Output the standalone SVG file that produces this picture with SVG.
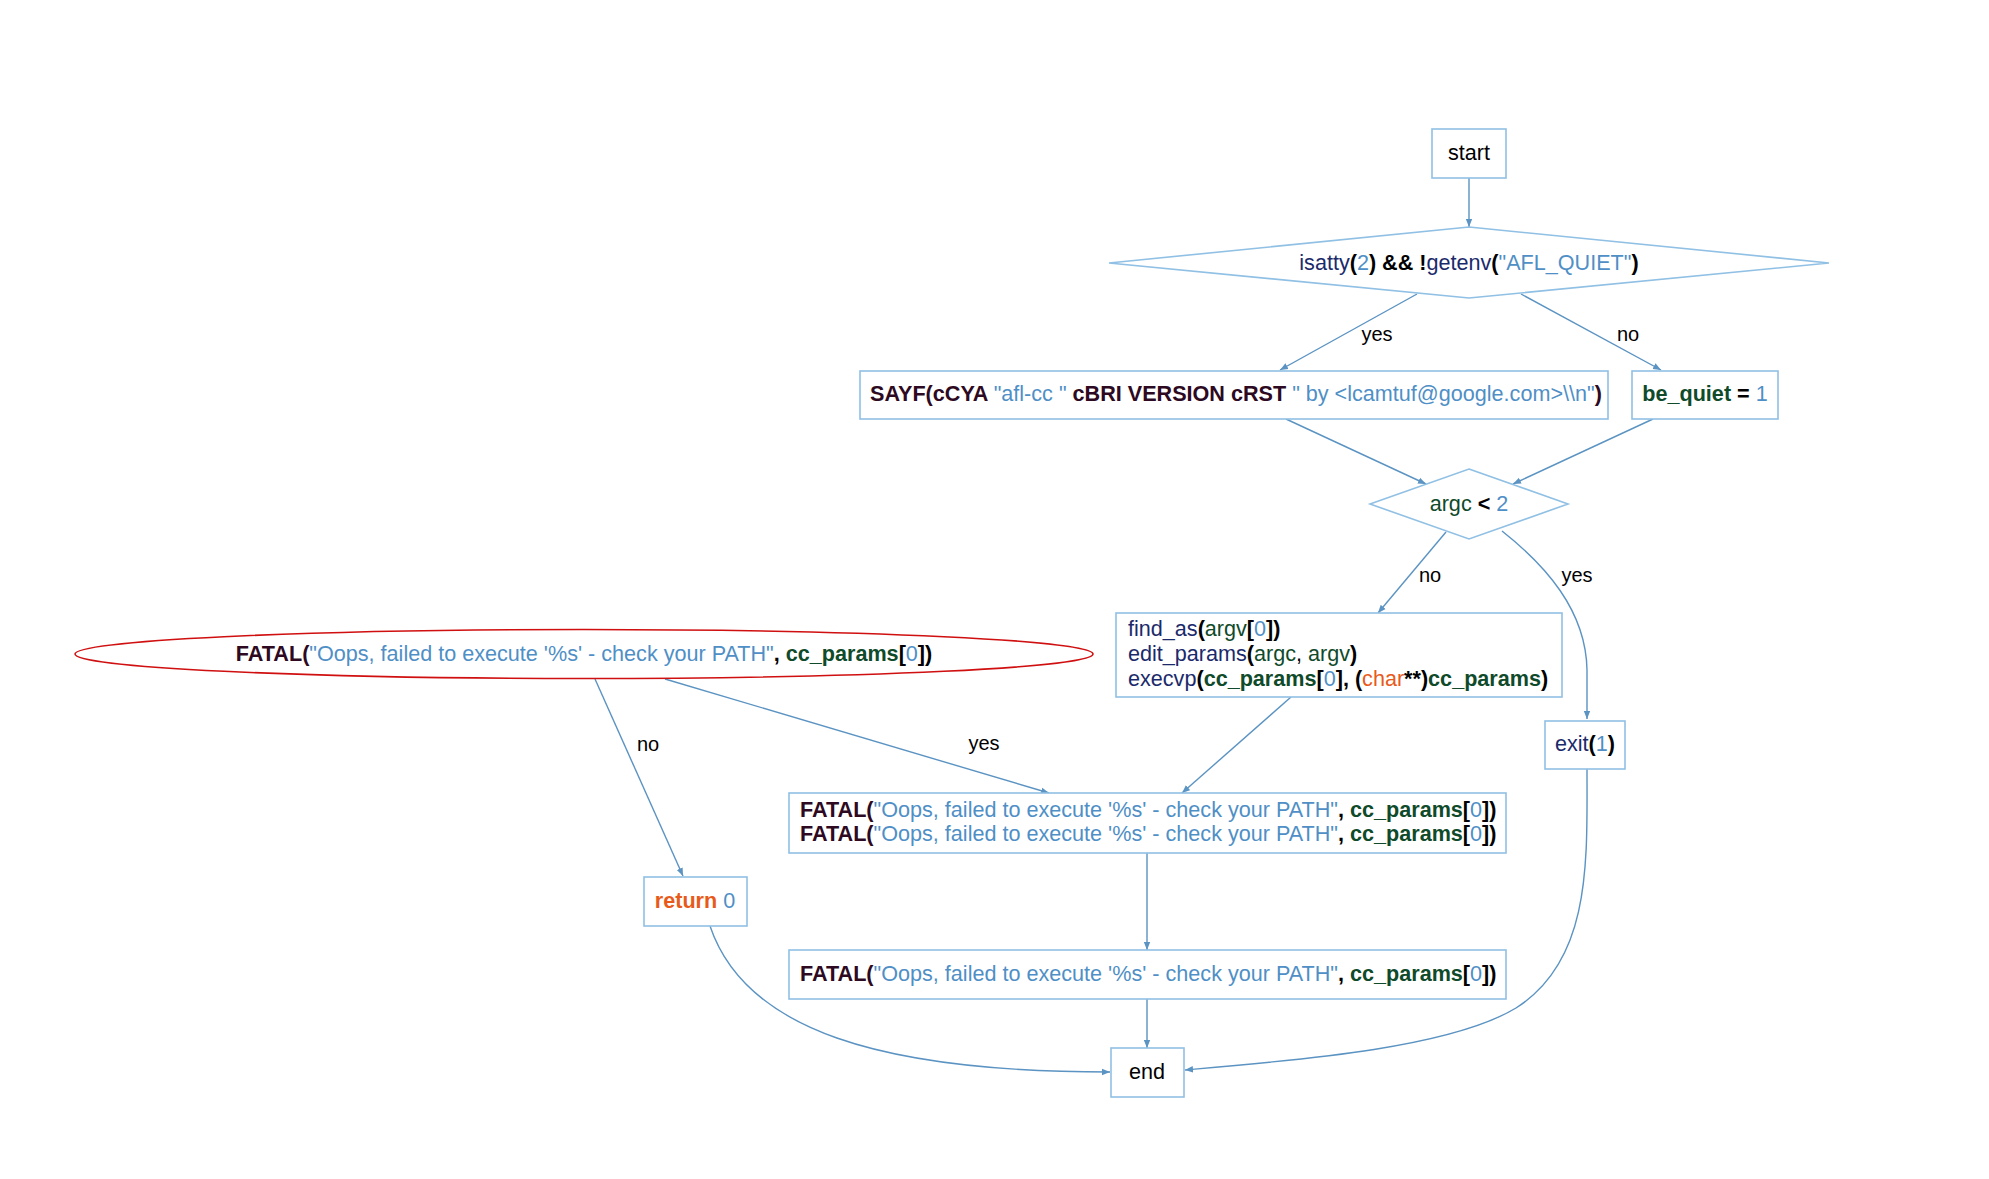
<svg xmlns="http://www.w3.org/2000/svg" width="1989" height="1179" viewBox="0 0 1989 1179">
<style>
text{font-family:"Liberation Sans",Arial,sans-serif;font-size:21.6px;fill:#000}
.box{fill:#fff;stroke:#90c0e4;stroke-width:1.6}
.ell{fill:#fff;stroke:#d01010;stroke-width:1.6}
.edge{fill:none;stroke:#5b93c2;stroke-width:1.4}
.b{font-weight:bold}
.m{fill:#2d0922;font-weight:bold}
.s{fill:#4f8fc6}
.f{fill:#1a2a6b}
.g{fill:#0f4a2a}
.o{fill:#e85a1a}
.lbl{font-size:20px}
</style>
<defs>
<marker id="arr" viewBox="0 0 10 10" refX="10" refY="5" markerWidth="8" markerHeight="8" orient="auto" markerUnits="userSpaceOnUse">
<path d="M0,1 L10,5 L0,9 z" fill="#5b93c2"/>
</marker>
</defs>
<rect width="1989" height="1179" fill="#fff"/>
<g id="connectors">
<path class="edge" marker-end="url(#arr)" d="M1469,178 L1469,227"/>
<path class="edge" marker-end="url(#arr)" d="M1417,294 L1280,370"/>
<path class="edge" marker-end="url(#arr)" d="M1521,294 L1661,370"/>
<path class="edge" marker-end="url(#arr)" d="M1286,419 L1426,484"/>
<path class="edge" marker-end="url(#arr)" d="M1653,419 L1513,484"/>
<path class="edge" marker-end="url(#arr)" d="M1446,532 L1378,613"/>
<path class="edge" marker-end="url(#arr)" d="M1502,531 C1545,565 1586,610 1587,670 L1587,719"/>
<path class="edge" marker-end="url(#arr)" d="M1291,697 L1182,793"/>
<path class="edge" marker-end="url(#arr)" d="M665,679 L1049,793"/>
<path class="edge" marker-end="url(#arr)" d="M595,679 L683,876"/>
<path class="edge" marker-end="url(#arr)" d="M1147,853 L1147,950"/>
<path class="edge" marker-end="url(#arr)" d="M1147,999 L1147,1048"/>
<path class="edge" marker-end="url(#arr)" d="M710,926 C745,1030 880,1072 1110,1072"/>
<path class="edge" marker-end="url(#arr)" d="M1587,769 C1587,860 1592,960 1516,1008 C1450,1048 1300,1060 1185,1070"/>
<text class="lbl" x="1377" y="341" text-anchor="middle">yes</text>
<text class="lbl" x="1628" y="341" text-anchor="middle">no</text>
<text class="lbl" x="1430" y="582" text-anchor="middle">no</text>
<text class="lbl" x="1577" y="582" text-anchor="middle">yes</text>
<text class="lbl" x="984" y="750" text-anchor="middle">yes</text>
<text class="lbl" x="648" y="751" text-anchor="middle">no</text>
</g>
<g id="start">
<rect class="box" x="1432" y="129" width="74" height="49"/>
<text x="1469" y="160" text-anchor="middle">start</text>
</g>
<g id="cond1">
<polygon class="box" points="1469,227 1829,263 1469,298 1109,263"/>
<text x="1469" y="270" text-anchor="middle"><tspan class="f">isatty</tspan><tspan class="b">(</tspan><tspan class="s">2</tspan><tspan class="b">) &amp;&amp; !</tspan><tspan class="f">getenv</tspan><tspan class="b">(</tspan><tspan class="s">"AFL_QUIET"</tspan><tspan class="b">)</tspan></text>
</g>
<g id="sayf">
<rect class="box" x="860" y="371" width="748" height="48"/>
<text x="870" y="401"><tspan class="m">SAYF(cCYA </tspan><tspan class="s">"afl-cc "</tspan><tspan class="m"> cBRI VERSION cRST </tspan><tspan class="s">" by &lt;lcamtuf@google.com&gt;\\n"</tspan><tspan class="m">)</tspan></text>
</g>
<g id="bequiet">
<rect class="box" x="1632" y="371" width="146" height="48"/>
<text x="1705" y="401" text-anchor="middle"><tspan class="g b">be_quiet</tspan><tspan class="b"> = </tspan><tspan class="s">1</tspan></text>
</g>
<g id="cond2">
<polygon class="box" points="1469,469 1568,504 1469,539 1370,504"/>
<text x="1469" y="511" text-anchor="middle"><tspan class="g">argc</tspan><tspan class="b"> &lt; </tspan><tspan class="s">2</tspan></text>
</g>
<g id="exec">
<rect class="box" x="1116" y="613" width="446" height="84"/>
<text x="1128" y="636"><tspan class="f">find_as</tspan><tspan class="b">(</tspan><tspan class="g">argv</tspan><tspan class="b">[</tspan><tspan class="s">0</tspan><tspan class="b">])</tspan></text>
<text x="1128" y="661"><tspan class="f">edit_params</tspan><tspan class="b">(</tspan><tspan class="g">argc</tspan><tspan>, </tspan><tspan class="g">argv</tspan><tspan class="b">)</tspan></text>
<text x="1128" y="686"><tspan class="f">execvp</tspan><tspan class="b">(</tspan><tspan class="g b">cc_params</tspan><tspan class="b">[</tspan><tspan class="s">0</tspan><tspan class="b">], (</tspan><tspan class="o">char</tspan><tspan class="b">**)</tspan><tspan class="g b">cc_params</tspan><tspan class="b">)</tspan></text>
</g>
<g id="exit">
<rect class="box" x="1545" y="721" width="80" height="48"/>
<text x="1585" y="751" text-anchor="middle"><tspan class="f">exit</tspan><tspan class="b">(</tspan><tspan class="s">1</tspan><tspan class="b">)</tspan></text>
</g>
<g id="fatalcond">
<ellipse class="ell" cx="584" cy="654" rx="509" ry="24.5"/>
<text x="584" y="661" text-anchor="middle"><tspan class="m">FATAL(</tspan><tspan class="s">"Oops, failed to execute '%s' - check your PATH"</tspan><tspan class="b">, </tspan><tspan class="g b">cc_params</tspan><tspan class="b">[</tspan><tspan class="s">0</tspan><tspan class="b">])</tspan></text>
</g>
<g id="fatal2">
<rect class="box" x="789" y="793" width="717" height="60"/>
<text x="800" y="817"><tspan class="m">FATAL(</tspan><tspan class="s">"Oops, failed to execute '%s' - check your PATH"</tspan><tspan class="b">, </tspan><tspan class="g b">cc_params</tspan><tspan class="b">[</tspan><tspan class="s">0</tspan><tspan class="b">])</tspan></text>
<text x="800" y="841"><tspan class="m">FATAL(</tspan><tspan class="s">"Oops, failed to execute '%s' - check your PATH"</tspan><tspan class="b">, </tspan><tspan class="g b">cc_params</tspan><tspan class="b">[</tspan><tspan class="s">0</tspan><tspan class="b">])</tspan></text>
</g>
<g id="return0">
<rect class="box" x="644" y="877" width="103" height="49"/>
<text x="695" y="908" text-anchor="middle"><tspan class="o b">return</tspan><tspan class="s"> 0</tspan></text>
</g>
<g id="fatal1">
<rect class="box" x="789" y="950" width="717" height="49"/>
<text x="800" y="981"><tspan class="m">FATAL(</tspan><tspan class="s">"Oops, failed to execute '%s' - check your PATH"</tspan><tspan class="b">, </tspan><tspan class="g b">cc_params</tspan><tspan class="b">[</tspan><tspan class="s">0</tspan><tspan class="b">])</tspan></text>
</g>
<g id="end">
<rect class="box" x="1111" y="1048" width="73" height="49"/>
<text x="1147" y="1079" text-anchor="middle">end</text>
</g>
</svg>
